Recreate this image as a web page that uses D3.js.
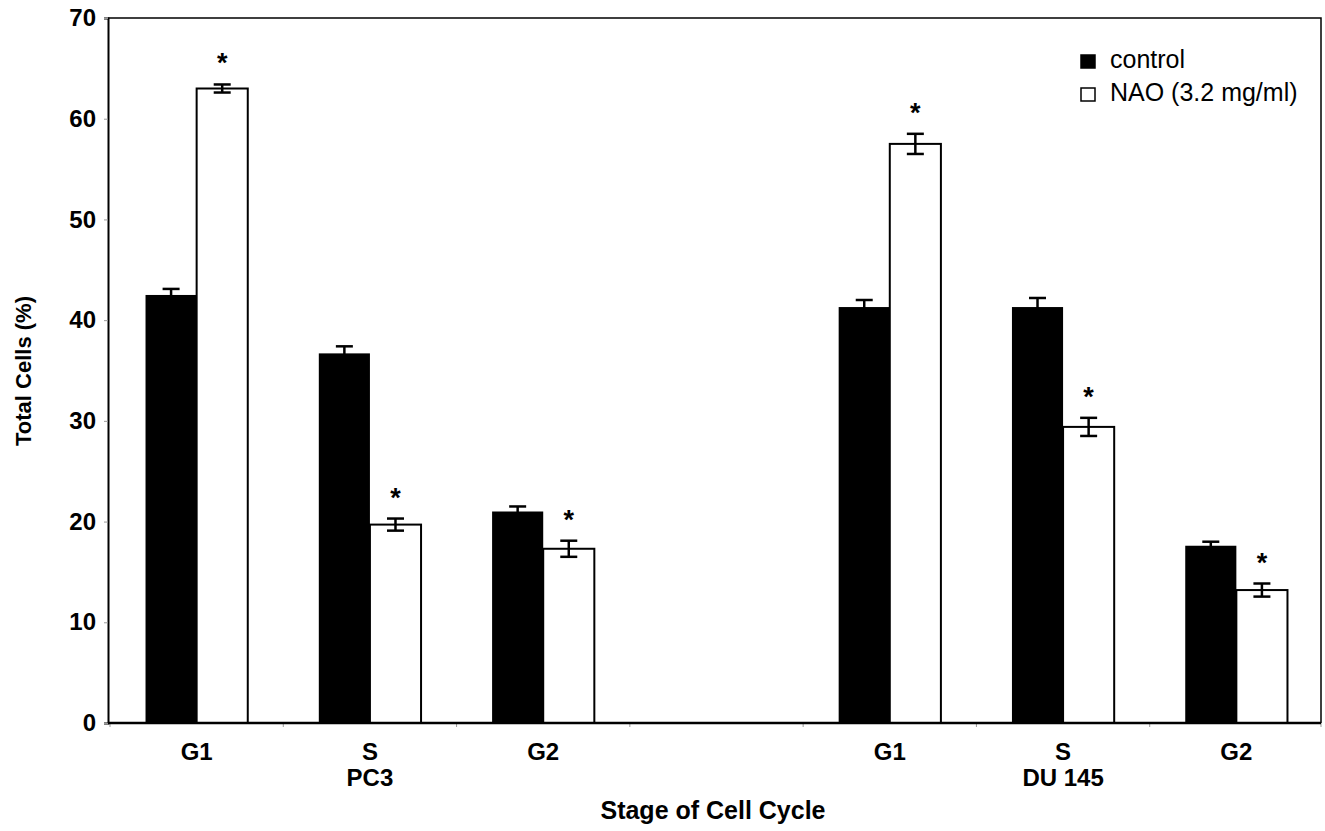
<!DOCTYPE html>
<html>
<head>
<meta charset="utf-8">
<script src="https://cdn.jsdelivr.net/npm/d3@7"></script>
<style>
    body { margin: 0; background: #fff; }
    text { font-family: "Liberation Sans", Arial, sans-serif; }
</style>
</head>
<body>
<script>
// Data
var cellLines = ["PC3", "DU 145"];
var stages = ["G1", "S", "G2"];
var slots = ["PC3-G1", "PC3-S", "PC3-G2", "gap", "DU-G1", "DU-S", "DU-G2"];
var control = [42.5, 36.7, 21.0, 41.3, 41.3, 17.6];
var controlErr = [0.6, 0.7, 0.5, 0.7, 0.9, 0.4];
var nao = [63.0, 19.7, 17.3, 57.5, 29.4, 13.2];
var naoErr = [0.4, 0.6, 0.8, 1.0, 0.9, 0.65];
var yTicks = [0, 10, 20, 30, 40, 50, 60, 70];
var seriesNames = ["control", "NAO (3.2 mg/ml)"];

var width = 1325;
var height = 831;
var margin = { left: 108, right: 4, top: 18, bottom: 108 };

var svg = d3.select("body").append("svg")
    .attr("width", width)
    .attr("height", height);

var x = d3.scaleBand()
    .domain(slots)
    .range([margin.left + 2, width - margin.right + 2])
    .paddingInner(0.41)
    .paddingOuter(0.205);

var y = d3.scaleLinear()
    .domain([0, 70])
    .range([height - margin.bottom, margin.top]);

// rows: one per bar pair, skipping the gap slot
var rows = slots.filter(function (s) { return s != "gap"; }).map(function (s, i) {
    return {
        slot: s,
        stage: stages[i % 3],
        c: control[i], ce: controlErr[i],
        n: nao[i], ne: naoErr[i]
    };
});

var bw = x.bandwidth() / 2;

// frame (top and right)
svg.append("path")
    .attr("d", "M" + margin.left + "," + y(70) + "H" + (width - margin.right) + "V" + y(0))
    .attr("fill", "none")
    .attr("stroke", "#000")
    .attr("stroke-width", 1.5);

// Y axis
var yAxis = svg.append("g")
    .attr("transform", "translate(" + margin.left + ",0)")
    .call(d3.axisLeft(y).tickValues(yTicks).tickSize(4).tickPadding(8).tickFormat(d3.format("d")));
yAxis.select(".domain").attr("stroke-width", 2);
yAxis.selectAll(".tick line").attr("stroke", "#999");
yAxis.selectAll(".tick text")
    .attr("font-size", "24px")
    .attr("font-weight", "bold")
    .attr("fill", "#000");

// X axis: ticks at slot boundaries
var bounds = slots.map(function (s) { return x(s) - x.step() * x.paddingInner() / 2; });
bounds.push(width - margin.right);
svg.append("g").selectAll("line")
    .data(bounds)
    .enter().append("line")
    .attr("x1", function (d) { return d; })
    .attr("x2", function (d) { return d; })
    .attr("y1", y(0))
    .attr("y2", y(0) + 4)
    .attr("stroke", "#999");

// bars
var g = svg.append("g");
g.selectAll(".ctrl")
    .data(rows)
    .enter().append("rect")
    .attr("class", "ctrl")
    .attr("x", function (d) { return x(d.slot); })
    .attr("y", function (d) { return y(d.c); })
    .attr("width", bw)
    .attr("height", function (d) { return y(0) - y(d.c); })
    .attr("fill", "#000");

g.selectAll(".nao")
    .data(rows)
    .enter().append("rect")
    .attr("class", "nao")
    .attr("x", function (d) { return x(d.slot) + bw; })
    .attr("y", function (d) { return y(d.n); })
    .attr("width", bw)
    .attr("height", function (d) { return y(0) - y(d.n); })
    .attr("fill", "#fff")
    .attr("stroke", "#000")
    .attr("stroke-width", 2);

// error bars
function errBar(sel, cx, v, e) {
    sel.append("line")
        .attr("x1", cx).attr("x2", cx)
        .attr("y1", y(v + e)).attr("y2", y(v - e));
    sel.append("line")
        .attr("x1", cx - 8.5).attr("x2", cx + 8.5)
        .attr("y1", y(v + e)).attr("y2", y(v + e));
    sel.append("line")
        .attr("x1", cx - 8.5).attr("x2", cx + 8.5)
        .attr("y1", y(v - e)).attr("y2", y(v - e));
}
rows.forEach(function (d) {
    var eg = svg.append("g").attr("stroke", "#000").attr("stroke-width", 2.5);
    errBar(eg, x(d.slot) + bw / 2, d.c, d.ce);
    errBar(eg, x(d.slot) + bw * 1.5, d.n, d.ne);
});

// significance stars
svg.append("g").selectAll("text")
    .data(rows)
    .enter().append("text")
    .attr("x", function (d) { return x(d.slot) + bw * 1.5; })
    .attr("y", function (d) { return y(d.n + d.ne) - 12; })
    .attr("text-anchor", "middle")
    .attr("font-size", "27px")
    .attr("font-weight", "bold")
    .text("*");

// bottom axis line on top of bars
svg.append("line")
    .attr("x1", margin.left).attr("x2", width - margin.right)
    .attr("y1", y(0)).attr("y2", y(0))
    .attr("stroke", "#000")
    .attr("stroke-width", 2.5);

// category labels
svg.append("g").selectAll("text")
    .data(rows)
    .enter().append("text")
    .attr("x", function (d) { return x(d.slot) + x.bandwidth() / 2; })
    .attr("y", 760)
    .attr("text-anchor", "middle")
    .attr("font-size", "24px")
    .attr("font-weight", "bold")
    .text(function (d) { return d.stage; });

svg.append("g").selectAll("text")
    .data(cellLines)
    .enter().append("text")
    .attr("x", function (d, i) { return x(i == 0 ? "PC3-S" : "DU-S") + x.bandwidth() / 2; })
    .attr("y", 786)
    .attr("text-anchor", "middle")
    .attr("font-size", "24px")
    .attr("font-weight", "bold")
    .text(function (d) { return d; });

// axis titles
svg.append("text")
    .attr("x", 713)
    .attr("y", 819)
    .attr("text-anchor", "middle")
    .attr("font-size", "25px")
    .attr("font-weight", "bold")
    .text("Stage of Cell Cycle");

svg.append("text")
    .attr("transform", "translate(31,371) rotate(-90)")
    .attr("text-anchor", "middle")
    .attr("font-size", "22px")
    .attr("font-weight", "bold")
    .text("Total Cells (%)");

// Legend
var legend = svg.append("g")
    .attr("transform", "translate(1081,55)");
var items = legend.selectAll("g")
    .data(seriesNames)
    .enter().append("g")
    .attr("transform", function (d, i) { return "translate(0," + (i * 33) + ")"; });
items.append("rect")
    .attr("width", 14)
    .attr("height", 13)
    .attr("fill", function (d, i) { return i == 0 ? "#000" : "#fff"; })
    .attr("stroke", "#000")
    .attr("stroke-width", 1.5);
items.append("text")
    .attr("x", 29)
    .attr("y", 13)
    .attr("font-size", "25px")
    .text(function (d) { return d; });
</script>
</body>
</html>
